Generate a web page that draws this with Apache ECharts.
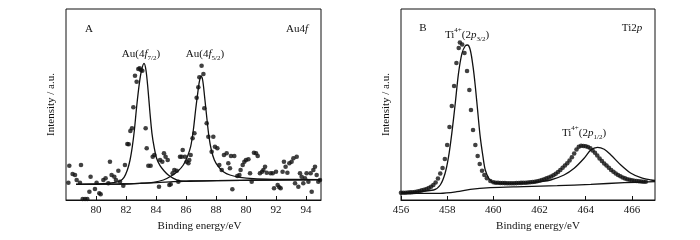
<!DOCTYPE html>
<html>
<head>
<meta charset="utf-8">
<script src="https://cdn.jsdelivr.net/npm/echarts@6/dist/echarts.min.js"></script>
<style>
  html, body { margin: 0; padding: 0; background: #fff; }
  #main { width: 700px; height: 240px; }
</style>
</head>
<body>
<div id="main"></div>
<script>
// Au4f panel: [binding energy, intensity]
const auDots = [
  [78.16,17.3],[78.22,34.3],[78.44,26.0],[78.60,25.0],[78.71,20.0],[78.93,17.3],[79.00,35.0],[79.11,1],[79.27,1],[79.42,1],
  [79.56,8.3],[79.64,23.3],[79.93,11.0],[80.04,17.3],[80.22,6.7],[80.31,5.7],[80.49,20.0],[80.64,21.7],[80.82,16.7],[80.93,38.3],
  [81.04,25.0],[81.22,23.3],[81.33,20.0],[81.49,29.3],[81.60,18.3],[81.82,14.3],[81.93,35.0],[82.09,56.0],[82.18,55.7],[82.29,69.0],
  [82.40,71.7],[82.49,92.7],[82.60,124.3],[82.71,118.3],[82.82,131.0],[82.91,131.7],[83.00,130.0],[83.09,129.3],[83.31,71.7],[83.38,51.7],
  [83.49,34.3],[83.64,34.3],[83.78,43.3],[83.89,45.0],[84.20,13.3],[84.27,40.0],[84.42,38.3],[84.53,46.7],[84.64,43.3],[84.78,40.0],
  [84.89,15.0],[84.98,15.7],[85.11,26.7],[85.22,30.0],[85.38,29.3],[85.49,18.3],[85.60,43.3],[85.71,43.3],[85.78,50.0],[85.93,43.3],
  [86.04,38.3],[86.16,36.7],[86.22,40.0],[86.31,45.0],[86.44,61.7],[86.56,66.7],[86.71,102.3],[86.82,112.7],[86.89,122.7],[87.04,134.3],
  [87.16,126.0],[87.22,91.7],[87.38,76.7],[87.49,63.3],[87.71,48.3],[87.82,63.3],[87.93,53.3],[88.09,51.7],[88.22,35.0],[88.38,30.0],
  [88.53,45.0],[88.71,46.7],[88.82,36.7],[88.93,31.7],[89.00,44.0],[89.09,10.7],[89.22,44.0],[89.42,24.0],[89.56,25.0],[89.64,30.0],
  [89.78,35.0],[89.89,38.3],[90.00,40.0],[90.16,40.7],[90.27,26.7],[90.38,18.3],[90.53,47.3],[90.67,46.7],[90.78,44.0],[90.93,26.7],
  [91.07,28.3],[91.16,30.0],[91.27,33.3],[91.38,27.3],[91.64,26.7],[91.78,26.7],[91.87,11.7],[92.00,28.3],[92.11,15.0],[92.22,12.7],
  [92.31,11.7],[92.44,28.3],[92.53,38.3],[92.64,33.3],[92.76,27.3],[92.89,36.7],[93.04,38.3],[93.16,41.7],[93.27,16.7],[93.38,43.3],
  [93.49,13.3],[93.60,26.7],[93.71,23.3],[93.82,16.7],[93.93,21.7],[94.04,26.7],[94.16,18.3],[94.31,26.7],[94.38,8.3],[94.49,30.0],
  [94.60,33.3],[94.71,25.0],[94.82,18.3],[94.93,20.0]
];
const auFit72 = [
  [78.67,15.7],[80.27,16.0],[81.16,17.3],[81.6,19.0],[81.87,22.7],[82.09,30.0],[82.27,40.0],[82.42,53.3],[82.56,70.0],[82.71,93.3],
  [82.89,116.7],[83.04,130.0],[83.2,136.7],[83.33,130.0],[83.47,110.0],[83.6,86.7],[83.73,66.7],[83.87,53.3],[84.04,41.7],[84.27,34.3],
  [84.53,29.3],[84.82,25.0],[85.16,21.7],[85.6,19.0],[86.04,18.6],[86.5,18.9],[88.04,19.3],[91.38,20.0],[95,20.3]
];
const auFit52 = [
  [78.67,15.7],[81.6,16.0],[82.93,16.7],[83.82,17.7],[84.49,20.0],[85.04,24.3],[85.49,29.3],[85.82,35.0],[86.09,43.3],[86.31,53.3],
  [86.49,70.0],[86.64,90.0],[86.78,106.7],[86.89,118.3],[87.0,124.0],[87.11,120.0],[87.24,103.3],[87.38,83.3],[87.53,63.3],[87.69,50.0],
  [87.89,40.0],[88.16,33.3],[88.49,28.3],[88.93,25.0],[89.6,22.7],[90.49,21.3],[91.82,20.7],[95,20.3]
];
const auBase = [
  [78.67,15.7],[81.6,16.0],[82.93,16.7],[84.04,17.3],[85.16,18.3],[86.27,19.0],[88.04,19.3],[91.38,20.0],[95,20.3]
];
const auTicks = [80, 82, 84, 86, 88, 90, 92, 94];
const auTickLabels = ['80', '82', '84', '86', '88', '80', '92', '94'];

// Ti2p panel
const tiDots = [
  [456.0,7.3],[456.1,7.3],[456.2,7.3],[456.3,7.5],[456.4,7.6],[456.5,7.8],[456.6,8.0],[456.7,8.5],[456.8,9.0],[456.9,9.6],
  [457.0,10.2],[457.1,11.0],[457.2,12.0],[457.3,13.2],[457.4,15.0],[457.5,17.5],[457.6,21.5],[457.7,26.5],[457.8,32.0],[457.9,41.0],
  [458.0,55.0],[458.1,73.0],[458.2,94.0],[458.3,114.0],[458.4,137.0],[458.5,152.0],[458.55,157.5],[458.65,155.5],[458.75,147.0],[458.86,129.0],
  [458.96,110.0],[459.03,90.0],[459.12,70.0],[459.22,55.0],[459.32,44.0],[459.41,36.0],[459.51,29.3],[459.61,25.0],[459.72,21.7],[459.87,19.0],
  [460.0,17.8],[460.1,17.3],[460.2,17.2],[460.3,17.0],[460.4,17.0],[460.5,16.9],[460.6,16.8],[460.7,16.8],[460.8,16.8],[460.9,16.8],
  [461.0,16.9],[461.1,17.0],[461.2,17.1],[461.3,17.2],[461.4,17.3],[461.5,17.5],[461.6,17.7],[461.7,18.0],[461.8,18.3],[461.9,18.7],
  [462.0,19.3],[462.1,20.0],[462.2,20.8],[462.3,21.6],[462.4,22.5],[462.5,23.5],[462.6,24.7],[462.7,26.2],[462.8,28.0],[462.9,30.0],
  [463.0,32.3],[463.1,34.5],[463.2,36.7],[463.3,39.5],[463.4,42.8],[463.5,46.5],[463.6,50.5],[463.7,53.3],[463.8,54.2],[463.9,54.0],
  [464.0,53.8],[464.1,53.0],[464.2,51.7],[464.3,49.5],[464.4,47.3],[464.5,44.5],[464.6,41.5],[464.7,39.0],[464.8,36.5],[464.9,34.5],
  [465.0,32.2],[465.1,30.0],[465.2,28.2],[465.3,26.5],[465.4,25.0],[465.5,23.7],[465.6,22.5],[465.7,21.6],[465.8,20.8],[465.9,20.2],
  [466.0,19.7],[466.1,19.3],[466.2,19.0],[466.3,18.7],[466.4,18.5],[466.5,18.3],[466.6,18.2]
];
const tiFit = [
  [456.0,7.3],[457.41,10.0],[457.7,15.0],[457.91,26.7],[458.06,43.3],[458.2,66.7],[458.35,96.7],[458.49,126.7],[458.64,146.7],[458.78,154.0],
  [458.88,155.0],[459.0,150.0],[459.12,133.3],[459.22,113.3],[459.33,86.7],[459.43,63.3],[459.55,43.3],[459.65,30.0],[459.8,21.7],[459.94,18.3],
  [460.16,16.7],[460.8,16.5],[461.3,16.8],[461.7,17.3],[462.0,18.3],[462.48,20.0],[463.06,25.0],[463.5,31.7],[463.93,41.7],[464.22,50.0],
  [464.51,52.7],[464.8,50.7],[465.09,45.0],[465.52,35.0],[465.96,26.7],[466.39,22.3],[466.83,20.0],[467.0,19.5]
];
const tiBase = [
  [456.0,6.7],[457.7,6.7],[458.42,8.3],[459.0,10.7],[459.87,12.3],[461.32,13.3],[462.77,14.3],[464.22,15.7],[465.67,17.3],[467.0,18.3]
];
const tiTicks = [456, 458, 460, 462, 464, 466];

const serif = '"Liberation Serif", "Times New Roman", serif';
const ink = '#111';

const rich = {
  n: { fill: ink, fontFamily: serif, fontSize: 11, lineHeight: 11, padding: [3, 0, 0, 0], verticalAlign: 'top' },
  i: { fill: ink, fontFamily: serif, fontSize: 11, fontStyle: 'italic', lineHeight: 11, padding: [3, 0, 0, 0], verticalAlign: 'top' },
  s: { fill: ink, fontFamily: serif, fontSize: 7, lineHeight: 7, padding: [9, 0, 0, 0], verticalAlign: 'top' },
  p: { fill: ink, fontFamily: serif, fontSize: 7, lineHeight: 7, padding: [0, 0, 0, 0], verticalAlign: 'top' }
};

function label(x, y, text) {
  return {
    type: 'text', x: x, y: y,
    style: { text: text, rich: rich, fill: ink, fontFamily: serif, fontSize: 11, align: 'center', verticalAlign: 'middle' }
  };
}

function xAxisFor(grid, min, max, ticks, fmt, namePad) {
  return {
    type: 'value', gridIndex: grid, min: min, max: max,
    axisLine: { show: true, onZero: false, lineStyle: { color: ink, width: 1 } },
    axisTick: { show: true, inside: true, length: 4, customValues: ticks, lineStyle: { color: ink } },
    axisLabel: { customValues: ticks, formatter: fmt, color: ink, fontFamily: serif, fontSize: 11, margin: 5 },
    splitLine: { show: false },
    name: 'Binding energy/eV', nameLocation: 'middle', nameGap: 19,
    nameTextStyle: { color: ink, fontFamily: serif, fontSize: 11, padding: [0, 0, 0, namePad] }
  };
}

function yAxisFor(grid) {
  return {
    type: 'value', gridIndex: grid, min: 0, max: 191,
    axisLine: { show: false }, axisTick: { show: false }, axisLabel: { show: false }, splitLine: { show: false },
    name: 'Intensity / a.u.', nameLocation: 'middle', nameGap: 9,
    nameTextStyle: { color: ink, fontFamily: serif, fontSize: 11 }
  };
}

function dotSeries(axis, data) {
  return {
    type: 'scatter', xAxisIndex: axis, yAxisIndex: axis, data: data,
    symbol: 'circle', symbolSize: 4.6, itemStyle: { color: ink }
  };
}

function lineSeries(axis, data) {
  return {
    type: 'line', xAxisIndex: axis, yAxisIndex: axis, data: data,
    showSymbol: false, smooth: 0.3, lineStyle: { color: ink, width: 1.3 }, z: 3
  };
}

const chart = echarts.init(document.getElementById('main'), null, { renderer: 'canvas' });
chart.setOption({
  animation: false,
  backgroundColor: '#fff',
  grid: [
    { left: 66, top: 9, width: 255, height: 191, show: true, borderColor: ink, borderWidth: 1 },
    { left: 401, top: 9, width: 254, height: 191, show: true, borderColor: ink, borderWidth: 1 }
  ],
  xAxis: [
    xAxisFor(0, 78, 95, auTicks, v => auTickLabels[auTicks.indexOf(v)], 12),
    xAxisFor(1, 456, 467, tiTicks, v => String(v), 20)
  ],
  yAxis: [yAxisFor(0), yAxisFor(1)],
  series: [
    dotSeries(0, auDots),
    lineSeries(0, auFit72),
    lineSeries(0, auFit52),
    lineSeries(0, auBase),
    dotSeries(1, tiDots),
    lineSeries(1, tiFit),
    lineSeries(1, tiBase)
  ],
  graphic: [
    label(89, 26, '{n|A}'),
    label(297, 26, '{n|Au4}{i|f}'),
    label(141, 51, '{n|Au(4}{i|f}{s|7/2}{n|)}'),
    label(205, 51, '{n|Au(4}{i|f}{s|5/2}{n|)}'),
    label(423, 25, '{n|B}'),
    label(632, 25, '{n|Ti2}{i|p}'),
    label(467, 32, '{n|Ti}{p|4+}{n|(2}{i|p}{s|3/2}{n|)}'),
    label(584, 130, '{n|Ti}{p|4+}{n|(2}{i|p}{s|1/2}{n|)}')
  ]
});
</script>
</body>
</html>
